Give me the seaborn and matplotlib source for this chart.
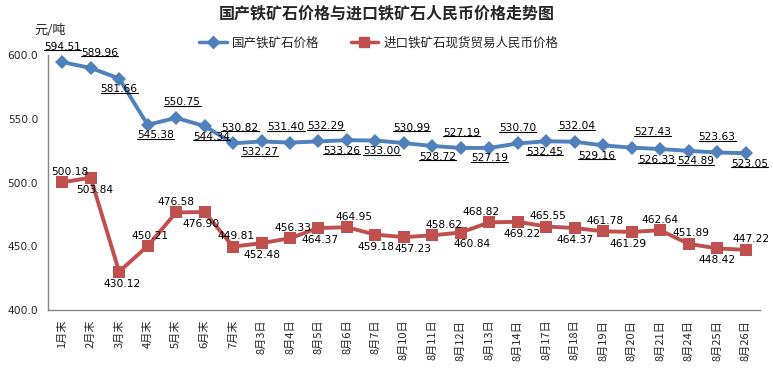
import numpy as np
import pandas as pd
import seaborn as sns
import matplotlib.pyplot as plt
from matplotlib.lines import Line2D

# x categories
categories = ["1月末", "2月末", "3月末", "4月末", "5月末", "6月末", "7月末",
              "8月3日", "8月4日", "8月5日", "8月6日", "8月7日", "8月10日",
              "8月11日", "8月12日", "8月13日", "8月14日", "8月17日", "8月18日",
              "8月19日", "8月20日", "8月21日", "8月24日", "8月25日", "8月26日"]

domestic_name = "国产铁矿石价格"
imported_name = "进口铁矿石现货贸易人民币价格"

domestic = [594.51, 589.96, 581.66, 545.38, 550.75, 544.34, 530.82, 532.27,
            531.40, 532.29, 533.26, 533.00, 530.99, 528.72, 527.19, 527.19,
            530.70, 532.45, 532.04, 529.16, 527.43, 526.33, 524.89, 523.63,
            523.05]
imported = [500.18, 503.84, 430.12, 450.21, 476.58, 476.90, 449.81, 452.48,
            456.33, 464.37, 464.95, 459.18, 457.23, 458.62, 460.84, 468.82,
            469.22, 465.55, 464.37, 461.78, 461.29, 462.64, 451.89, 448.42,
            447.22]

# label placement: 1 above the point, -1 below; plus a sideways nudge in px
domestic_side = [1, 1, -1, -1, 1, -1, 1, -1, 1, 1, -1, -1, 1, -1, 1, -1,
                 1, -1, 1, -1, 1, -1, -1, 1, -1]
domestic_nudge = [0, 9, 0, 8, 6, 7, 7, -2, -4, 7, -5, 6, 8, 5, 1, 0,
                  0, -2, 2, -7, 21, -4, 7, 0, 4]
imported_side = [1, -1, -1, 1, 1, -1, 1, -1, 1, -1, 1, -1, -1, 1, -1, 1,
                 -1, 1, -1, 1, -1, 1, 1, -1, 1]
imported_nudge = [8, 4, 3, 2, 0, -3, 3, 0, 3, 2, 7, 1, 9, 12, 11, -8,
                  4, 2, 0, 2, -4, 0, 2, 0, 5]

BLUE = "#4F81BD"
RED = "#C0504D"
AXIS_GREY = "#868686"

sns.set_theme(style="white")
plt.rcParams['font.family'] = ['Noto Sans CJK SC', 'DejaVu Sans']

pos = np.arange(len(categories))
df = pd.DataFrame({"pos": pos, domestic_name: domestic, imported_name: imported})
long_df = df.melt(id_vars="pos", var_name="series", value_name="price")

fig = plt.figure(figsize=(7.73, 3.7), dpi=100)
ax = fig.add_axes([0.062, 0.162, 0.921, 0.689])

sns.lineplot(data=long_df, x="pos", y="price", hue="series", style="series",
             palette={domestic_name: BLUE, imported_name: RED},
             markers={domestic_name: "D", imported_name: "s"},
             dashes=False, linewidth=2.8, markeredgewidth=0, legend=False, ax=ax)
for line in ax.get_lines():
    line.set_markersize(7 if line.get_marker() == "D" else 8.5)

yticks = [400, 450, 500, 550, 600]
ax.set_xlim(-0.5, len(categories) - 0.5)
ax.set_ylim(400, 600)
ax.set_yticks(yticks)
ax.set_yticklabels([f"{v:.1f}" for v in yticks], fontsize=7.7, family="DejaVu Sans")
ax.set_xticks(pos)
ax.set_xticklabels(categories, rotation=90, fontsize=8)
ax.set_xticks(np.arange(-0.5, len(categories), 1), minor=True)
ax.tick_params(axis="x", which="major", length=0, pad=7)
ax.tick_params(axis="x", which="minor", length=5, color=AXIS_GREY, direction="out")
ax.tick_params(axis="y", length=4, color=AXIS_GREY, direction="out", pad=3)
ax.set_xlabel("")
ax.set_ylabel("")
for side in ["top", "right"]:
    ax.spines[side].set_visible(False)
for side in ["left", "bottom"]:
    ax.spines[side].set_color(AXIS_GREY)
    ax.spines[side].set_linewidth(1)

# value labels (offsets in points, 1px = 0.72pt at dpi 100)
def put_labels(values, sides, nudges, up, down):
    texts = []
    for x, v, s, n in zip(pos, values, sides, nudges):
        dy = up if s > 0 else -down
        t = ax.annotate(f"{v:.2f}", (x, v), xytext=(n * 0.72, dy),
                        textcoords="offset points", ha="center",
                        va="bottom" if s > 0 else "top",
                        fontsize=7.7, family="DejaVu Sans", color="black")
        texts.append(t)
    return texts

blue_texts = put_labels(domestic, domestic_side, domestic_nudge, 7.5, 4)
put_labels(imported, imported_side, imported_nudge, 4, 5)

fig.text(0.5, 0.963, "国产铁矿石价格与进口铁矿石人民币价格走势图",
         ha="center", va="center", fontsize=11.5, fontweight="bold")
fig.text(0.045, 0.918, "元/吨", ha="left", va="center", fontsize=9.5)

handles = [Line2D([], [], color=BLUE, marker="D", markersize=6, linewidth=2.5),
           Line2D([], [], color=RED, marker="s", markersize=7, linewidth=2.5)]
fig.legend(handles, [domestic_name, imported_name], loc="center",
           bbox_to_anchor=(0.49, 0.884), ncol=2, frameon=False, fontsize=9,
           handlelength=2.2, columnspacing=2.5, handletextpad=0.4)

# underline the domestic price labels
fig.canvas.draw()
inv = fig.transFigure.inverted()
for t in blue_texts:
    bb = t.get_window_extent()
    (x0, y0), (x1, _) = inv.transform([(bb.x0, bb.y0 + 1.5), (bb.x1, bb.y1)])
    fig.add_artist(Line2D([x0, x1], [y0, y0], color="black", linewidth=0.8))

fig.savefig("out.png", dpi=100)
